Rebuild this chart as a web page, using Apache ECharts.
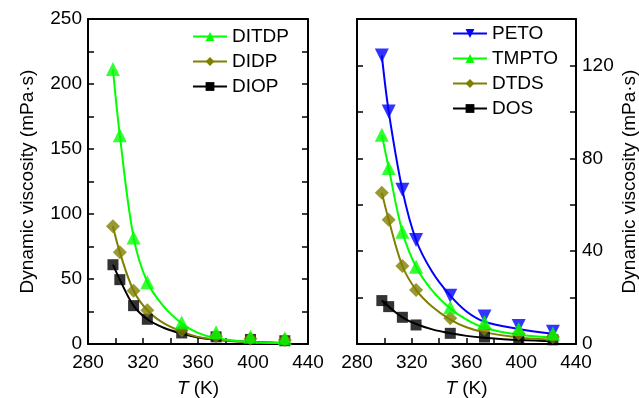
<!DOCTYPE html>
<html>
<head>
<meta charset="utf-8">
<script src="https://cdn.jsdelivr.net/npm/echarts@6/dist/echarts.min.js"></script>
<style>
  html, body { margin: 0; padding: 0; background: #fff; }
  #chart { width: 639px; height: 398px; }
</style>
</head>
<body>
<div id="chart"></div>
<script>
// Measured temperatures (K)
const temps = [298.15, 303.15, 313.15, 323.15, 348.15, 373.15, 398.15, 423.15];
// Temperatures at which the fitted curves are sampled
const fitTemps = [298.15, 303.15, 313.15, 323.15, 335, 348.15, 360, 373.15, 398.15, 425];

// Left panel: phthalates, dynamic viscosity (mPa·s)
const ditdp = [211.5, 160.5, 82, 47.5, 16.5, 9, 5.5, 4.5];
const didp  = [90.5, 70.5, 41, 26, 10.5, 6, 4, 3];
const diop  = [61, 49.5, 29.5, 19, 8.5, 5.5, 3.5, 2.5];
const ditdpFit = [211.5, 160.5, 82, 47.5, 29, 16, 8.5, 4.5, 1.6, 0.7];
const didpFit  = [90.5, 70.5, 41, 26, 16, 9.5, 5.5, 3.3, 1.3, 0.6];
const diopFit  = [61, 49.5, 29.5, 19, 12.5, 8, 5, 3.3, 1.6, 0.8];

// Right panel: polyol esters and diesters
const peto  = [124.3, 100.2, 66.4, 44.8, 20.8, 11.8, 7.8, 5.3];
const tmpto = [90.1, 75.8, 48.4, 33.3, 15.8, 9.5, 6.5, 4.5];
const dtds  = [65.2, 53.5, 33.6, 23.3, 11.1, 6.5, 4.5, 3];
const dos   = [18.7, 16.1, 11.5, 8.2, 4.6, 3, 2.3, 1.8];
const petoFit  = [124.3, 100.2, 66.4, 44.8, 31, 20.8, 14, 9.6, 6.5, 4.3];
const tmptoFit = [90.1, 75.8, 48.4, 33.3, 23, 15.3, 10.5, 7, 4, 2.8];
const dtdsFit  = [65.2, 53.5, 33.6, 23.3, 16, 10.5, 7.2, 5, 2.8, 1.8];
const dosFit   = [18.7, 16.1, 11.5, 8.6, 6.3, 4.6, 3.5, 2.7, 1.7, 1.2];

const xTicks = [280, 320, 360, 400, 440];
const leftTicks = [0, 50, 100, 150, 200, 250];
const rightTicks = [0, 40, 80, 120];

const FONT = 'Liberation Sans, Arial, sans-serif';
const FS = 19;
const GREEN = '#00ff00', OLIVE = '#808000', BLACK = '#000000', BLUE = '#0000ff';
const DOWN_TRI = 'path://M0,0L2,0L1,1.7Z';

const pair = (xs, ys) => xs.map((x, i) => [x, ys[i]]);

// panel 0 uses x axis 0 / y axis 0; panel 1 uses x axis 2 / y axis 2
function fitLine(name, xs, ys, color, symbol, panel) {
  return {
    name, type: 'line', xAxisIndex: panel * 2, yAxisIndex: panel * 2,
    data: pair(xs, ys), smooth: 0.35, showSymbol: false,
    symbol, symbolSize: 13, color,
    lineStyle: { color, width: 2 }, z: 2, silent: true
  };
}
function points(name, xs, ys, color, symbol, size, panel) {
  return {
    name, type: 'scatter', xAxisIndex: panel * 2, yAxisIndex: panel * 2,
    data: pair(xs, ys), symbol, symbolSize: size,
    itemStyle: { color }, z: 3
  };
}

const lineAxis = { show: true, onZero: false, lineStyle: { color: '#000', width: 2 } };
const tickIn = { show: true, inside: true, length: 6, lineStyle: { color: '#000', width: 1.5 } };
const labelStyle = { color: '#000', fontSize: FS, fontFamily: FONT };

function xAxes(grid) {
  return [
    {
      type: 'value', gridIndex: grid, position: 'bottom', min: 280, max: 440, interval: 20,
      axisLine: lineAxis, axisTick: tickIn, splitLine: { show: false },
      axisLabel: Object.assign({ margin: 9,
        formatter: v => xTicks.includes(v) ? String(v) : '' }, labelStyle),
      name: '{i|T} (K)', nameLocation: 'middle', nameGap: 35,
      nameTextStyle: { color: '#000', fontSize: FS, fontFamily: FONT,
        rich: { i: { fontStyle: 'italic', fontSize: FS, fontFamily: FONT, color: '#000' } } }
    },
    {
      type: 'value', gridIndex: grid, position: 'top', min: 280, max: 440,
      axisLine: lineAxis, axisTick: { show: false }, axisLabel: { show: false },
      splitLine: { show: false }
    }
  ];
}

const yName = 'Dynamic viscosity (mPa·s)';
const yNameStyle = { color: '#000', fontSize: FS, fontFamily: FONT };
const legendText = { color: '#000', fontSize: FS, fontFamily: FONT };

const option = {
  animation: false,
  backgroundColor: '#fff',
  textStyle: { fontFamily: FONT },
  grid: [
    { left: 88, top: 19, width: 220, height: 325, containLabel: false, outerBoundsMode: 'none' },
    { left: 357, top: 19, width: 219, height: 325, containLabel: false, outerBoundsMode: 'none' }
  ],
  xAxis: [].concat(xAxes(0), xAxes(1)),
  yAxis: [
    {
      type: 'value', gridIndex: 0, position: 'left', min: 0, max: 250, interval: 25,
      axisLine: lineAxis, axisTick: tickIn, splitLine: { show: false },
      axisLabel: Object.assign({ margin: 6,
        formatter: v => leftTicks.includes(v) ? String(v) : '' }, labelStyle),
      name: yName, nameLocation: 'middle', nameGap: 51, nameRotate: 90, nameTextStyle: yNameStyle
    },
    {
      type: 'value', gridIndex: 0, position: 'right', min: 0, max: 250, interval: 25,
      axisLine: lineAxis, axisTick: tickIn, axisLabel: { show: false }, splitLine: { show: false }
    },
    {
      type: 'value', gridIndex: 1, position: 'left', min: 0, max: 140, interval: 20,
      axisLine: lineAxis, axisTick: tickIn, axisLabel: { show: false }, splitLine: { show: false }
    },
    {
      type: 'value', gridIndex: 1, position: 'right', min: 0, max: 140, interval: 20,
      axisLine: lineAxis, axisTick: tickIn, splitLine: { show: false },
      axisLabel: Object.assign({ margin: 6,
        formatter: v => rightTicks.includes(v) ? String(v) : '' }, labelStyle),
      name: yName, nameLocation: 'middle', nameGap: 44, nameRotate: 90, nameTextStyle: yNameStyle
    }
  ],
  legend: [
    {
      orient: 'vertical', left: 192, top: 27, padding: 0,
      itemWidth: 34, itemHeight: 11, itemGap: 6,
      data: ['DITDP', 'DIDP', 'DIOP'], textStyle: legendText
    },
    {
      orient: 'vertical', left: 452, top: 24, padding: 0,
      itemWidth: 34, itemHeight: 11, itemGap: 6,
      data: ['PETO', 'TMPTO', 'DTDS', 'DOS'], textStyle: legendText
    }
  ],
  series: [
    fitLine('DIOP', fitTemps, diopFit, BLACK, 'rect', 0),
    fitLine('DIDP', fitTemps, didpFit, OLIVE, 'diamond', 0),
    fitLine('DITDP', fitTemps, ditdpFit, GREEN, 'triangle', 0),
    points('DIOP', temps, diop, BLACK, 'rect', 11, 0),
    points('DIDP', temps, didp, OLIVE, 'diamond', 14, 0),
    points('DITDP', temps, ditdp, GREEN, 'triangle', 14, 0),

    fitLine('DOS', fitTemps, dosFit, BLACK, 'rect', 1),
    fitLine('DTDS', fitTemps, dtdsFit, OLIVE, 'diamond', 1),
    fitLine('TMPTO', fitTemps, tmptoFit, GREEN, 'triangle', 1),
    fitLine('PETO', fitTemps, petoFit, BLUE, DOWN_TRI, 1),
    points('PETO', temps, peto, BLUE, DOWN_TRI, 14, 1),
    points('DOS', temps, dos, BLACK, 'rect', 11, 1),
    points('DTDS', temps, dtds, OLIVE, 'diamond', 14, 1),
    points('TMPTO', temps, tmpto, GREEN, 'triangle', 14, 1)
  ]
};

const chart = echarts.init(document.getElementById('chart'), null, { renderer: 'canvas' });
chart.setOption(option);
</script>
</body>
</html>
